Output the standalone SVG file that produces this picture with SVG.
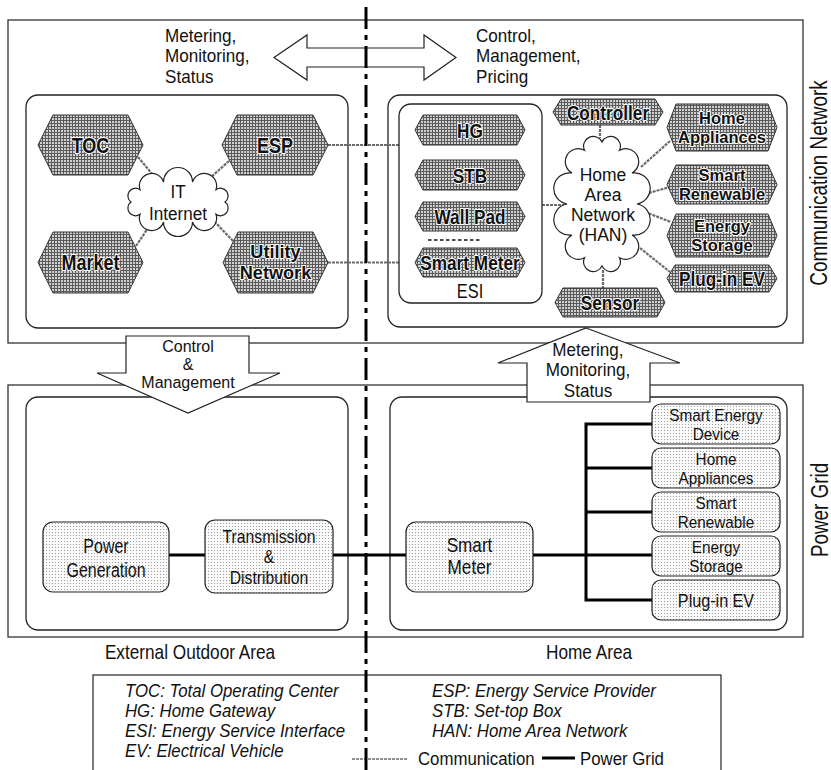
<svg xmlns="http://www.w3.org/2000/svg" width="831" height="770" viewBox="0 0 831 770">
<style>
text{font-family:"Liberation Sans",Arial,sans-serif;fill:#111}
.t{font-size:21px}
.m{font-size:18px}
.d{font-size:17px}
.v{font-size:23px}
.c{text-anchor:middle}
.b{font-weight:bold;font-size:21px;text-anchor:middle;stroke:#fff;stroke-width:2.2px;paint-order:stroke;stroke-linejoin:round}
.b2{font-size:16.5px}
.bl{font-size:22px}
.leg{font-style:italic;font-size:17.5px}
.frame{fill:none;stroke:#333;stroke-width:1.3}
.area{fill:none;stroke:#222;stroke-width:1.3}
.hex{fill:url(#hatch);stroke:#333;stroke-width:1}
.dev{fill:url(#dots);stroke:#222;stroke-width:1.2}
.arrow{fill:#fff;stroke:#222;stroke-width:1.2}
.cloud{fill:#fff;stroke:#222;stroke-width:1.2}
.comm{stroke:#6a6a6a;stroke-width:2.2;fill:none;stroke-dasharray:3 1}
.pwr{stroke:#000;stroke-width:3;fill:none}
</style>
<defs>
<pattern id="hatch" width="3" height="3" patternUnits="userSpaceOnUse"><rect width="3" height="3" fill="#d0d0d0"/><path d="M0 0.5H3M0.5 0V3" stroke="#5a5a5a" stroke-width="1"/></pattern>
<pattern id="dots" width="3" height="3" patternUnits="userSpaceOnUse"><rect width="3" height="3" fill="#fafafa"/><rect x="1" y="1" width="1" height="1" fill="#9a9a9a"/></pattern>
</defs>
<rect width="831" height="770" fill="#fff"/>

<g id="comm-network-frame">
<rect class="frame" x="8" y="20" width="795" height="323"/>
<text class="v c" transform="translate(827,183) rotate(-90) scale(.82,1)">Communication Network</text>
</g>
<g id="power-grid-frame">
<rect class="frame" x="8" y="385" width="795" height="252"/>
<text class="v c" transform="translate(828,510) rotate(-90) scale(.82,1)">Power Grid</text>
</g>

<g id="outdoor-comm-area"><rect class="area" x="26" y="95" width="322" height="233" rx="12"/></g>
<g id="home-comm-area"><rect class="area" x="388" y="95" width="399" height="232" rx="12"/></g>
<g id="outdoor-power-area"><rect class="area" x="26" y="397" width="322" height="233" rx="12"/></g>
<g id="home-power-area"><rect class="area" x="390" y="397" width="397" height="233" rx="12"/></g>

<g id="connectors">
<line class="comm" x1="138" y1="157" x2="158" y2="181"/>
<line class="comm" x1="229" y1="161" x2="210" y2="178"/>
<line class="comm" x1="136" y1="246" x2="150" y2="225"/>
<line class="comm" x1="233" y1="241" x2="213" y2="220"/>
<line class="comm" x1="328" y1="145" x2="399" y2="145"/>
<line class="comm" x1="328" y1="262.5" x2="399" y2="262.5"/>
<line class="comm" x1="542" y1="205" x2="568" y2="205"/>
<line class="comm" x1="600" y1="125" x2="600" y2="138"/>
<line class="comm" x1="603" y1="270" x2="603" y2="288"/>
<line class="comm" x1="641" y1="167" x2="670" y2="141"/>
<line class="comm" x1="645" y1="194" x2="670" y2="187"/>
<line class="comm" x1="645" y1="212" x2="671" y2="222"/>
<line class="comm" x1="640" y1="248" x2="670" y2="272"/>
<line class="pwr" x1="169" y1="555" x2="205" y2="555"/>
<line class="pwr" x1="333" y1="555" x2="406" y2="555"/>
<line class="pwr" x1="533" y1="555" x2="652" y2="555"/>
<polyline class="pwr" points="652,424 586,424 586,600 652,600"/>
<line class="pwr" x1="586" y1="468" x2="652" y2="468"/>
<line class="pwr" x1="586" y1="512" x2="652" y2="512"/>
</g>

<g id="it-internet">
<path class="cloud" d="M225,202 A1,1 0 0 1 216,214.3 A1,1 0 0 1 192.5,222 A1,1 0 0 1 163.5,222 A1,1 0 0 1 140,214.3 A1,1 0 0 1 131,202 A1,1 0 0 1 140,189.7 A1,1 0 0 1 163.5,182 A1,1 0 0 1 192.5,182 A1,1 0 0 1 216,189.7 A1,1 0 0 1 225,202 Z"/>
<text class="c" style="font-size:19px" transform="translate(178,198) scale(.9,1)"><tspan x="0" y="0">IT</tspan><tspan x="0" y="22">Internet</tspan></text>
</g>
<g id="toc"><polygon class="hex" points="38,145 53,115 128,115 143,145 128,175 53,175"/><text class="b bl" transform="translate(90.5,153) scale(.82,1)">TOC</text></g>
<g id="esp"><polygon class="hex" points="222,145 237,115 313,115 328,145 313,175 237,175"/><text class="b bl" transform="translate(275,153) scale(.82,1)">ESP</text></g>
<g id="market"><polygon class="hex" points="38,262.5 53,232 128,232 143,262.5 128,293 53,293"/><text class="b bl" transform="translate(90.5,270) scale(.82,1)">Market</text></g>
<g id="utility-network"><polygon class="hex" points="223,262.5 238,232 313,232 328,262.5 313,293 238,293"/><text class="b" style="font-size:18.5px" transform="translate(275.5,258) scale(.98,1)"><tspan x="0" y="0">Utility</tspan><tspan x="0" y="21">Network</tspan></text></g>

<g id="esi">
<rect class="area" x="399" y="104" width="143" height="199" rx="12"/>
<text class="c" style="font-size:20px" transform="translate(470,298) scale(.82,1)">ESI</text>
<line x1="428" y1="240" x2="481" y2="240" stroke="#111" stroke-width="1.5" stroke-dasharray="3.5 2.5"/>
</g>
<g id="hg"><polygon class="hex" points="415,130 423,115 517,115 525,130 517,145 423,145"/><text class="b" transform="translate(470,137.5) scale(.82,1)">HG</text></g>
<g id="stb"><polygon class="hex" points="415,175 423,160 517,160 525,175 517,190 423,190"/><text class="b" transform="translate(470,182.5) scale(.82,1)">STB</text></g>
<g id="wall-pad"><polygon class="hex" points="415,216.5 423,202 517,202 525,216.5 517,231 423,231"/><text class="b" transform="translate(470,224) scale(.82,1)">Wall Pad</text></g>
<g id="smart-meter-esi"><polygon class="hex" points="415,262.5 423,248 517,248 525,262.5 517,277 423,277"/><text class="b" transform="translate(470,270) scale(.82,1)">Smart Meter</text></g>

<g id="han">
<path class="cloud" d="M637,204 A1,1 0 0 1 632,235 A1,1 0 0 1 619.5,257.7 A1,1 0 0 1 602,266 A1,1 0 0 1 584.5,257.7 A1,1 0 0 1 572,235 A1,1 0 0 1 567,204 A1,1 0 0 1 572,173 A1,1 0 0 1 584.5,150.3 A1,1 0 0 1 602,142 A1,1 0 0 1 619.5,150.3 A1,1 0 0 1 632,173 A1,1 0 0 1 637,204 Z"/>
<text class="c" style="font-size:17.5px" transform="translate(603,181)"><tspan x="0" y="0">Home</tspan><tspan x="0" y="20">Area</tspan><tspan x="0" y="40">Network</tspan><tspan x="0" y="60">(HAN)</tspan></text>
</g>
<g id="controller"><polygon class="hex" points="553,112 561,99 655,99 663,112 655,125 561,125"/><text class="b" transform="translate(608,119.5) scale(.82,1)">Controller</text></g>
<g id="sensor"><polygon class="hex" points="555,302.5 563,288 657,288 665,302.5 657,317 563,317"/><text class="b" transform="translate(610,310) scale(.82,1)">Sensor</text></g>
<g id="home-appliances"><polygon class="hex" points="667,127.5 676,104 768,104 777,127.5 768,151 676,151"/><text class="b b2" transform="translate(722,124.3)"><tspan x="0" y="0">Home</tspan><tspan x="0" y="18.5">Appliances</tspan></text></g>
<g id="smart-renewable"><polygon class="hex" points="667,184.5 676,165 768,165 777,184.5 768,204 676,204"/><text class="b b2" transform="translate(722,181.3)"><tspan x="0" y="0">Smart</tspan><tspan x="0" y="18.5">Renewable</tspan></text></g>
<g id="energy-storage"><polygon class="hex" points="667,235.5 676,214 768,214 777,235.5 768,257 676,257"/><text class="b b2" transform="translate(722,232.3)"><tspan x="0" y="0">Energy</tspan><tspan x="0" y="18.5">Storage</tspan></text></g>
<g id="plug-in-ev"><polygon class="hex" points="667,278.5 675,265 769,265 777,278.5 769,292 675,292"/><text class="b" transform="translate(722,286) scale(.82,1)">Plug-in EV</text></g>

<g id="power-generation"><rect class="dev" x="43" y="522" width="126" height="70" rx="10"/><text class="c" style="font-size:19.5px" transform="translate(106,553) scale(.82,1)"><tspan x="0" y="0">Power</tspan><tspan x="0" y="24">Generation</tspan></text></g>
<g id="transmission-distribution"><rect class="dev" x="205" y="520" width="128" height="73" rx="10"/><text class="c" style="font-size:17.5px" transform="translate(269,543) scale(.9,1)"><tspan x="0" y="0">Transmission</tspan><tspan x="0" y="20">&amp;</tspan><tspan x="0" y="41">Distribution</tspan></text></g>
<g id="smart-meter"><rect class="dev" x="406" y="522" width="127" height="70" rx="10"/><text class="c" style="font-size:19.5px" transform="translate(469.5,552) scale(.88,1)"><tspan x="0" y="0">Smart</tspan><tspan x="0" y="22">Meter</tspan></text></g>
<g id="smart-energy-device"><rect class="dev" x="652" y="404" width="128" height="40" rx="9"/><text class="d c" transform="translate(716,420.5) scale(.9,1)"><tspan x="0" y="0">Smart Energy</tspan><tspan x="0" y="19.2">Device</tspan></text></g>
<g id="home-appliances-pg"><rect class="dev" x="652" y="448" width="128" height="40" rx="9"/><text class="d c" transform="translate(716,464.5) scale(.9,1)"><tspan x="0" y="0">Home</tspan><tspan x="0" y="19.2">Appliances</tspan></text></g>
<g id="smart-renewable-pg"><rect class="dev" x="652" y="492" width="128" height="40" rx="9"/><text class="d c" transform="translate(716,508.5) scale(.9,1)"><tspan x="0" y="0">Smart</tspan><tspan x="0" y="19.2">Renewable</tspan></text></g>
<g id="energy-storage-pg"><rect class="dev" x="652" y="536" width="128" height="40" rx="9"/><text class="d c" transform="translate(716,552.5) scale(.9,1)"><tspan x="0" y="0">Energy</tspan><tspan x="0" y="19.2">Storage</tspan></text></g>
<g id="plug-in-ev-pg"><rect class="dev" x="652" y="580" width="128" height="40" rx="9"/><text class="c" style="font-size:19px" transform="translate(716,607) scale(.85,1)">Plug-in EV</text></g>

<g id="arrow-top">
<polygon class="arrow" points="274,57.5 307,35 307,48 424,48 424,35 456,57.5 424,80 424,67 307,67 307,80"/>
<text class="m" transform="translate(165,42) scale(.95,1)"><tspan x="0" y="0">Metering,</tspan><tspan x="0" y="20.5">Monitoring,</tspan><tspan x="0" y="41">Status</tspan></text>
<text class="m" transform="translate(476,42) scale(.95,1)"><tspan x="0" y="0">Control,</tspan><tspan x="0" y="20.5">Management,</tspan><tspan x="0" y="41">Pricing</tspan></text>
</g>
<g id="arrow-down">
<polygon class="arrow" points="126,336 249,336 249,373 280,373 188,413 97,373 126,373"/>
<text class="c" style="font-size:16px" transform="translate(188,352)"><tspan x="0" y="0">Control</tspan><tspan x="0" y="18">&amp;</tspan><tspan x="0" y="36">Management</tspan></text>
</g>
<g id="arrow-up">
<polygon class="arrow" points="586,328 680,363 650,363 650,402 527,402 527,363 498,363"/>
<text class="m c" transform="translate(588,356) scale(.95,1)"><tspan x="0" y="0">Metering,</tspan><tspan x="0" y="20.5">Monitoring,</tspan><tspan x="0" y="41">Status</tspan></text>
</g>

<g id="area-labels">
<text class="t c" transform="translate(190,659) scale(.82,1)">External Outdoor Area</text>
<text class="t c" transform="translate(589,659) scale(.82,1)">Home Area</text>
</g>

<g id="legend">
<rect x="93" y="675" width="628" height="110" fill="#fff" stroke="#222" stroke-width="1.2"/>
<text class="leg" transform="translate(125,697) scale(.96,1)"><tspan x="0" y="0">TOC: Total Operating Center</tspan><tspan x="0" y="20">HG: Home Gateway</tspan><tspan x="0" y="40">ESI: Energy Service Interface</tspan><tspan x="0" y="60">EV: Electrical Vehicle</tspan></text>
<text class="leg" transform="translate(432,697) scale(.96,1)"><tspan x="0" y="0">ESP: Energy Service Provider</tspan><tspan x="0" y="20">STB: Set-top Box</tspan><tspan x="0" y="40">HAN: Home Area Network</tspan></text>
<line class="comm" x1="352" y1="759" x2="408" y2="759" style="stroke-width:1.5"/>
<text class="leg" style="font-style:normal" transform="translate(418,765) scale(.96,1)">Communication</text>
<line class="pwr" x1="542" y1="758" x2="575" y2="758"/>
<text class="leg" style="font-style:normal" transform="translate(580,765) scale(.96,1)">Power Grid</text>
</g>

<line id="divider" x1="366" y1="7" x2="366" y2="770" stroke="#000" stroke-width="3" stroke-dasharray="22 6 5 6"/>
</svg>
